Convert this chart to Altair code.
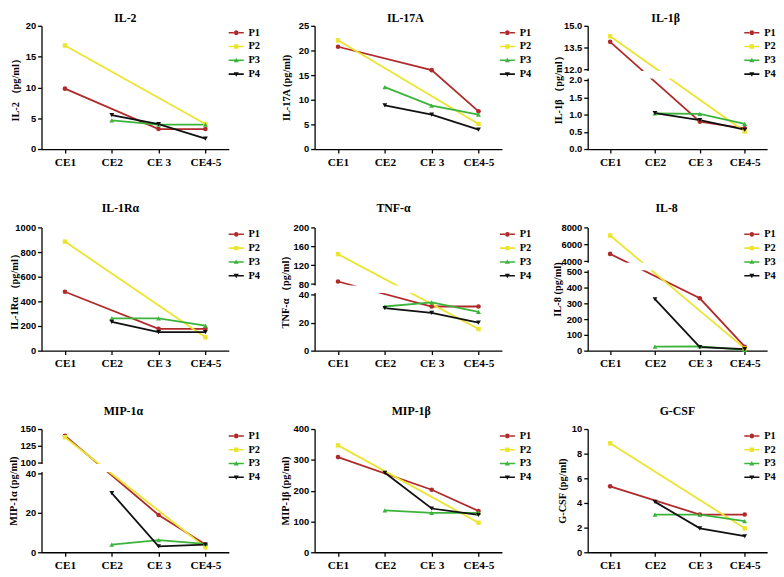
import altair as alt
import pandas as pd

# ---------------- data ----------------
STAGES = ["CE1", "CE2", "CE 3", "CE4-5"]
SERIES = ["P1", "P2", "P3", "P4"]

IL2 = {"P1": [9.8, None, 3.25, 3.25], "P2": [16.8, None, None, 4.05],
       "P3": [None, 4.65, 3.95, 3.95], "P4": [None, 5.5, 4.05, 1.7]}
IL17A = {"P1": [20.75, None, 16.0, 7.65], "P2": [22.05, None, None, 5.1],
         "P3": [None, 12.55, 8.8, 7.0], "P4": [None, 8.85, 7.0, 3.95]}
IL1B = {"P1": [13.9, None, 0.79, 0.6], "P2": [14.28, None, None, 0.51],
        "P3": [None, 1.03, 1.02, 0.73], "P4": [None, 1.04, 0.84, 0.56]}
IL1RA = {"P1": [478, None, 177, 177], "P2": [885, None, None, 108],
         "P3": [None, 262, 262, 203], "P4": [None, 234, 150, 150]}
TNFA = {"P1": [85.5, None, 31.5, 31.5], "P2": [143.5, None, None, 15.4],
        "P3": [None, 31.5, 34.5, 27.6], "P4": [None, 30.3, 26.9, 20.0]}
IL8 = {"P1": [4870, None, 332, 25], "P2": [7040, None, None, 14],
       "P3": [None, 25, 27, 5], "P4": [None, 326, 22, 10]}
MIP1A = {"P1": [140, None, 18.9, 3.9], "P2": [137.8, None, None, 2.5],
         "P3": [None, 3.9, 6.2, 4.2], "P4": [None, 30, 3.0, 3.9]}
MIP1B = {"P1": [309, None, 203, 134], "P2": [347, None, None, 96],
         "P3": [None, 136, 128, 128], "P4": [None, 258, 142, 121]}
GCSF = {"P1": [5.35, None, 3.06, 3.06], "P2": [8.84, None, None, 1.94],
        "P3": [None, 3.06, 3.06, 2.53], "P4": [None, 4.09, 1.94, 1.3]}

IL2_TICKS = [0, 5, 10, 15, 20]
IL17A_TICKS = [0, 5, 10, 15, 20, 25]
IL1B_TICKS = [0.0, 0.5, 1.0, 1.5, 2.0, 12.0, 13.5, 15.0]
IL1RA_TICKS = [0, 200, 400, 600, 800, 1000]
TNFA_TICKS = [0, 20, 40, 80, 120, 160, 200]
IL8_TICKS = [0, 100, 200, 300, 400, 500, 4000, 6000, 8000]
MIP1A_TICKS = [0, 20, 40, 100, 125, 150]
MIP1B_TICKS = [0, 100, 200, 300, 400]
GCSF_TICKS = [0, 2, 4, 6, 8, 10]

# ---------------- styles ----------------
COLORS = ["#B02A2A", "#ECE42E", "#3CB43C", "#111111"]
SHAPES = ["circle", "square", "triangle-up", "triangle-down"]
SIZES = [22, 20, 24, 24]
LEGEND_PATHS = [
    "M-1.25,-0.13H-0.35V0.13H-1.25Z M0.35,-0.13H1.25V0.13H0.35Z M-0.4,0A0.4,0.4 0 1,0 0.4,0A0.4,0.4 0 1,0 -0.4,0Z",
    "M-1.25,-0.13H1.25V0.13H-1.25Z M-0.36,-0.36H0.36V0.36H-0.36Z",
    "M-1.25,-0.13H1.25V0.13H-1.25Z M0,-0.42L0.42,0.32H-0.42Z",
    "M-1.25,-0.13H1.25V0.13H-1.25Z M0,0.42L-0.42,-0.32H0.42Z",
]
WIDTHS = [190, 190, 182]
H = 125
LEGEND_X = [191, 189, 160]
TITLE_OFFSET = [-4, 8, 6]
SERIF = "Liberation Serif"
SANS = "Liberation Sans"

# (title, y-title, data, domain, ticks, format, break(lo, hi, frac_lo, frac_hi), titleX, title dx)
PANELS = [
    ("IL-2", "IL-2 （pg/ml）", IL2, [0, 20], IL2_TICKS, "d", None, -21, -10),
    ("IL-17A", "IL-17A (pg/ml)", IL17A, [0, 25], IL17A_TICKS, "d", None, -23, -3),
    ("IL-1β", "IL-1β （pg/ml）", IL1B, [0, 15], IL1B_TICKS, ".1f", (2, 12, 0.56, 0.645), -25, -12),
    ("IL-1Rα", "IL-1Rα （pg/ml）", IL1RA, [0, 1000], IL1RA_TICKS, "d", None, -22, -15),
    ("TNF-α", "TNF-α （pg/ml）", TNFA, [0, 200], TNFA_TICKS, "d", (40, 80, 0.455, 0.54), -24, -15),
    ("IL-8", "IL-8 (pg/ml)", IL8, [0, 8000], IL8_TICKS, "d", (500, 4000, 0.64, 0.725), -26, -11),
    ("MIP-1α", "MIP-1α (pg/ml)", MIP1A, [0, 150], MIP1A_TICKS, "d", (40, 100, 0.64, 0.728), -23, -12),
    ("MIP-1β", "MIP-1β (pg/ml)", MIP1B, [0, 400], MIP1B_TICKS, "d", None, -24, 3),
    ("G-CSF", "G-CSF (pg/ml)", GCSF, [0, 10], GCSF_TICKS, "d", None, -21, 0),
]


def make_panel(k, spec):
    title, ytitle, data, domain, ticks, fmt, brk, title_x, title_dx = spec
    row, col = divmod(k, 3)
    w = WIDTHS[col]
    rows = []
    for s in SERIES:
        for i, (st, v) in enumerate(zip(STAGES, data[s])):
            if v is not None:
                rows.append({"stage": st, "series": s, "value": v, "idx": i})
    df = pd.DataFrame(rows)

    if brk:
        lo, hi, flo, fhi = brk
        yscale = alt.Scale(domain=[domain[0], lo, hi, domain[1]],
                           range=[H, H * (1 - flo), H * (1 - fhi), 0],
                           nice=False, zero=False)
    else:
        yscale = alt.Scale(domain=domain, nice=False)
    xscale = alt.Scale(type="point", domain=STAGES, padding=0.5)

    xaxis = alt.Axis(title=None, labelAngle=0)
    yaxis = alt.Axis(title=ytitle, values=ticks, format=fmt, titleX=title_x,
                     labelOverlap=False)
    X = alt.X("stage:N", scale=xscale, axis=xaxis)
    Y = alt.Y("value:Q", scale=yscale, axis=yaxis)

    base = alt.Chart(df)
    layers = []
    for s, c in zip(SERIES, COLORS):
        layers.append(
            base.transform_filter(alt.datum.series == s)
            .mark_line(strokeWidth=1.8, color=c)
            .encode(x=X, y=Y, order="idx:Q")
        )
    if brk:
        inset = (hi - lo) * 0.14
        gap = pd.DataFrame({"lo": [lo + inset], "hi": [hi - inset]})
        layers.append(
            alt.Chart(gap).mark_rect(color="white").encode(
                x=alt.value(-4), x2=alt.value(w),
                y=alt.Y("lo:Q", scale=yscale, axis=yaxis), y2="hi:Q")
        )
    for s, c, shp, sz in zip(SERIES, COLORS, SHAPES, SIZES):
        layers.append(
            base.transform_filter(alt.datum.series == s)
            .mark_point(shape=shp, filled=True, size=sz, opacity=1, color=c)
            .encode(x=X, y=Y)
        )
    leg = alt.Legend(title=None, orient="none", legendX=LEGEND_X[col], legendY=0.5,
                     symbolSize=150, symbolStrokeWidth=0, labelFont=SERIF,
                     labelFontSize=10.5, labelFontWeight="bold", labelColor="black",
                     labelOffset=6, rowPadding=2, padding=0)
    layers.append(
        base.transform_filter("false").mark_point(filled=True, opacity=1).encode(
            x=X, y=Y,
            color=alt.Color("series:N", scale=alt.Scale(domain=SERIES, range=COLORS), legend=leg),
            shape=alt.Shape("series:N", scale=alt.Scale(domain=SERIES, range=LEGEND_PATHS), legend=leg),
        )
    )
    return alt.layer(*layers).properties(
        width=w, height=H,
        title=alt.TitleParams(text=title, font=SERIF, fontSize=12, fontWeight="bold",
                              color="black", offset=TITLE_OFFSET[row], dx=title_dx,
                              frame="group", anchor="middle"),
    )


panels = [make_panel(k, p) for k, p in enumerate(PANELS)]

chart = (
    alt.concat(*panels, columns=3, spacing={"row": 79.5, "column": 87}, bounds="flush")
    .resolve_scale(color="independent", shape="independent")
    .resolve_legend(color="independent", shape="independent")
    .properties(padding=0, background="white")
    .configure_view(stroke=None)
    .configure_axis(grid=False, domainColor="black", domainWidth=1.3, tickColor="black",
                    tickWidth=1.3, tickSize=4, labelFont=SANS, labelFontWeight="bold",
                    labelFontSize=9.5, labelColor="black", labelPadding=2,
                    titleFont=SERIF, titleFontWeight="bold", titleFontSize=10.5,
                    titleColor="black", zindex=0)
    .configure_axisX(labelFont=SERIF, labelFontSize=11.5, labelPadding=3.5)
)

chart.save("out.html", embed_options={"renderer": "svg", "actions": False})
